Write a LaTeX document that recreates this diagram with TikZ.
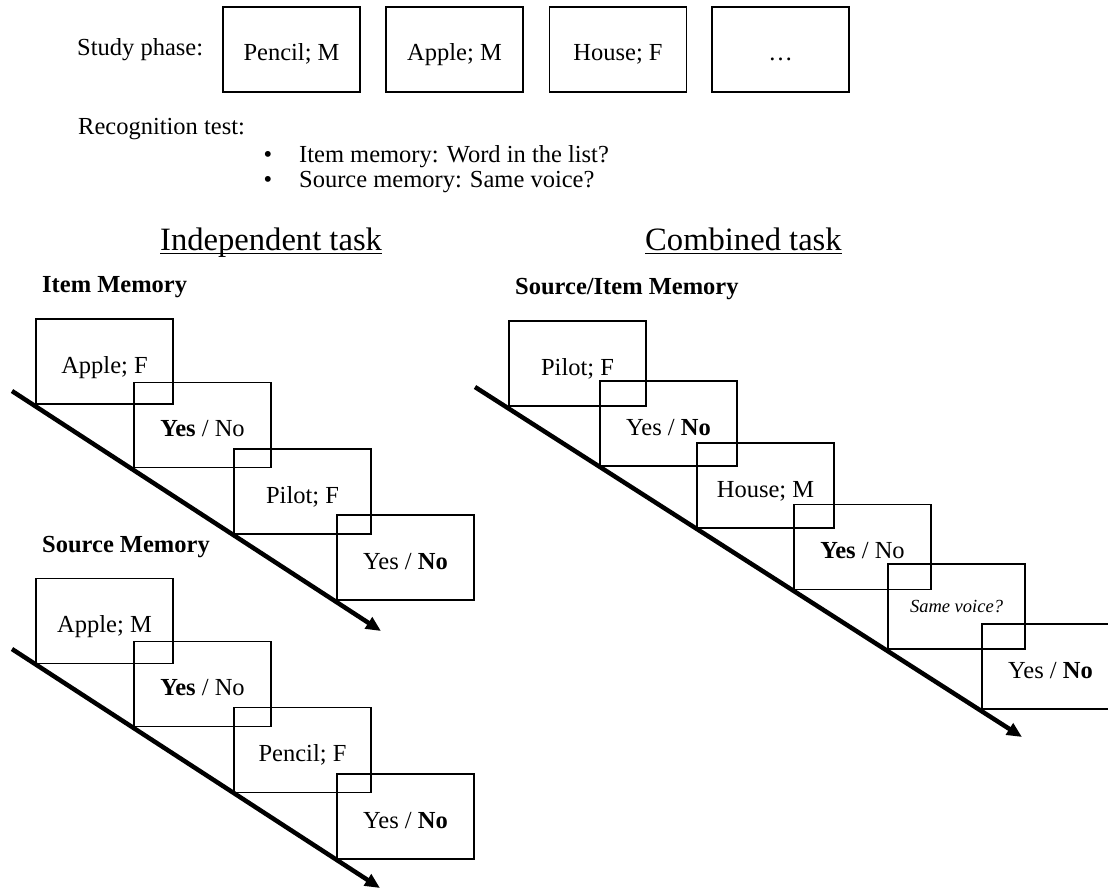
\documentclass[tikz,border=0pt]{standalone}
\usepackage{fontspec}
\setmainfont{Liberation Serif}
\usetikzlibrary{arrows.meta}
\tikzset{
  card/.style={draw, line width=1.6pt, minimum width=137pt, minimum height=85pt,
    inner sep=0pt, text height=23pt, text depth=0pt, font=\fontsize{24.5}{29}\selectfont},
  smallq/.style={text height=12pt, text depth=0pt, font=\fontsize{18.5}{22}\selectfont\itshape},
  txt/.style={anchor=base west, inner sep=0pt, font=\fontsize{24.5}{29}\selectfont},
  head/.style={anchor=base west, inner sep=0pt, font=\fontsize{24.5}{29}\selectfont\bfseries},
  bigtitle/.style={anchor=base west, inner sep=0pt, font=\fontsize{32.6}{38}\selectfont},
  timeline/.style={line width=4.5pt, -{Triangle[length=15pt,width=13pt]}},
  uline/.style={line width=1.5pt}
}
\begin{document}
\begin{tikzpicture}[x=1pt, y=-1pt]
\useasboundingbox (0,0) rectangle (1108,891);
\clip (0,0) rectangle (1108,891);

% Study phase
\node[txt] (sp) at (77,56) {Study phase:};
\node[card] (s1) at (291.5,49.5) {Pencil; M};
\node[card] (s2) at (454.5,49.5) {Apple; M};
\node[card] (s3) at (618,49.5) {House; F};
\node[card] (s4) at (780.5,49.5) {…};

% Recognition test
\node[txt] (rt) at (78,134) {Recognition test:};
\node[txt, anchor=base] (b1) at (268,162) {•};
\node[txt] (l1) at (299,162) {Item memory: Word in the list?};
\node[txt, anchor=base] (b2) at (268,187) {•};
\node[txt] (l2) at (299,187) {Source memory: Same voice?};

% Titles
\node[bigtitle] (ti) at (160,250) {Independent task};
\draw[uline] ([yshift=-3.5pt]ti.base west) -- ([yshift=-3.5pt]ti.base east);
\node[bigtitle] (tc) at (645,250) {Combined task};
\draw[uline] ([yshift=-3.5pt]tc.base west) -- ([yshift=-3.5pt]tc.base east);

% Item memory
\node[head] (hi) at (42,292) {Item Memory};
\coordinate (ia) at (12,391);
\coordinate (ib) at (381,631);
\draw[timeline] (ia) -- (ib);
\node[card] (i1) at (104.5,361.5) {Apple; F};
\node[card] (i2) at (202.5,425) {\textbf{Yes} / No};
\node[card] (i3) at (302.5,491.5) {Pilot; F};
\node[card] (i4) at (405.5,557.5) {Yes / \textbf{No}};

% Source memory
\node[head] (hs) at (42,552) {Source Memory};
\coordinate (sa) at (12,649);
\coordinate (sb) at (380,888);
\draw[timeline] (sa) -- (sb);
\node[card] (r1) at (104.5,621) {Apple; M};
\node[card] (r2) at (202.5,684) {\textbf{Yes} / No};
\node[card] (r3) at (302.5,750) {Pencil; F};
\node[card] (r4) at (405.5,816.5) {Yes / \textbf{No}};

% Combined
\node[head] (hc) at (515,294) {Source/Item Memory};
\coordinate (ca) at (475,387);
\coordinate (cb) at (1022,737);
\draw[timeline] (ca) -- (cb);
\node[card] (c1) at (577.5,363.5) {Pilot; F};
\node[card] (c2) at (668.5,423.5) {Yes / \textbf{No}};
\node[card] (c3) at (765.5,485.5) {House; M};
\node[card] (c4) at (862.5,547) {\textbf{Yes} / No};
\node[card, smallq] (c5) at (956.5,606.5) {Same voice?};
\node[card] (c6) at (1050.5,666.5) {Yes / \textbf{No}};
\end{tikzpicture}
\end{document}
